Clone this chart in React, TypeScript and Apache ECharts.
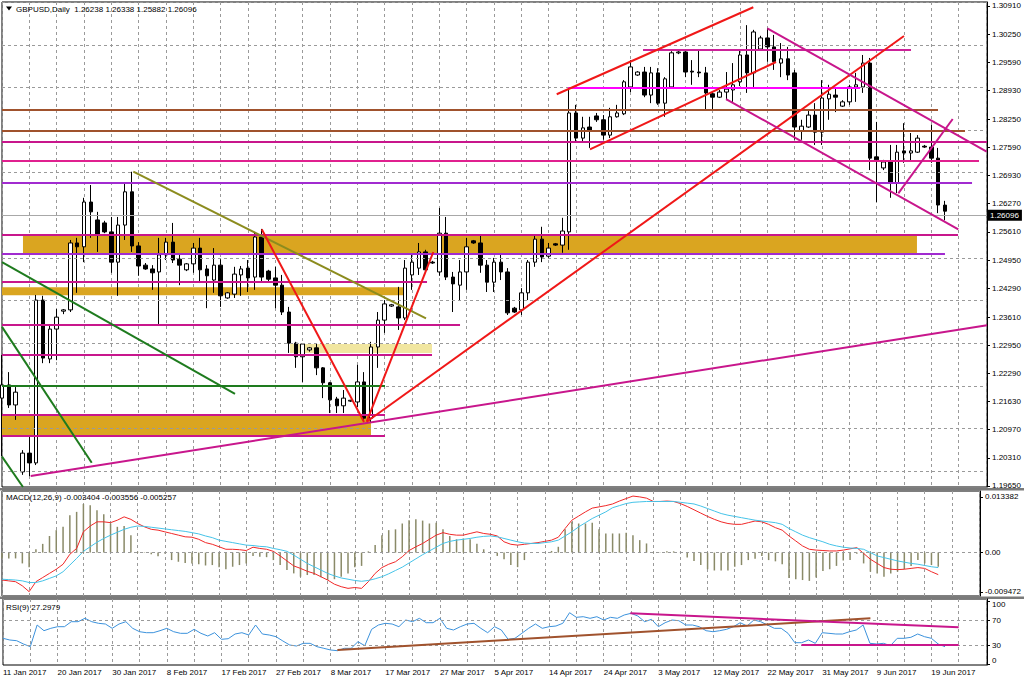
import React, { useEffect, useRef } from 'react';
import * as echarts from 'echarts';

const FONT = "'Liberation Sans', Arial, sans-serif";

const dateLabels = ['11 Jan 2017', '20 Jan 2017', '30 Jan 2017', '8 Feb 2017', '17 Feb 2017', '27 Feb 2017', '8 Mar 2017', '17 Mar 2017', '27 Mar 2017', '5 Apr 2017', '14 Apr 2017', '24 Apr 2017', '3 May 2017', '12 May 2017', '22 May 2017', '31 May 2017', '9 Jun 2017', '19 Jun 2017'];

const opens = [
  1.2171, 1.2202, 1.2155, 1.1998, 1.2042, 1.2019, 1.2401, 1.2263, 1.2333, 1.2375,
  1.2378, 1.2535, 1.2526, 1.2631, 1.2589, 1.2582, 1.2561, 1.2490, 1.2577, 1.2655,
  1.2528, 1.2483, 1.2474, 1.2467, 1.2507, 1.2537, 1.2497, 1.2472, 1.2486, 1.2523,
  1.2474, 1.2448, 1.2483, 1.2406, 1.2415, 1.2460, 1.2476, 1.2455, 1.2549, 1.2469,
  1.2453, 1.2436, 1.2373, 1.2300, 1.2268, 1.2284, 1.2289, 1.2242, 1.2207, 1.2169,
  1.2153, 1.2164, 1.2162, 1.2209, 1.2124, 1.2291, 1.2354, 1.2387, 1.2385, 1.2359,
  1.2460, 1.2476, 1.2514, 1.2490, 1.2467, 1.2558, 1.2455, 1.2436, 1.2467, 1.2540,
  1.2535, 1.2483, 1.2443, 1.2490, 1.2467, 1.2382, 1.2378, 1.2418, 1.2490, 1.2544,
  1.2504, 1.2533, 1.2530, 1.2561, 1.2840, 1.2781, 1.2807, 1.2833, 1.2824, 1.2788,
  1.2831, 1.2838, 1.2901, 1.2929, 1.2936, 1.2882, 1.2934, 1.2863, 1.2901, 1.2981,
  1.2983, 1.2938, 1.2936, 1.2934, 1.2885, 1.2877, 1.2889, 1.2894, 1.2913, 1.2976,
  1.2934, 1.2990, 1.3016, 1.2995, 1.2957, 1.2967, 1.2934, 1.2798, 1.2807, 1.2835,
  1.2795, 1.2873, 1.2882, 1.2856, 1.2866, 1.2901, 1.2901, 1.2957, 1.2737, 1.2711,
  1.2725, 1.2676, 1.2751, 1.2746, 1.2748, 1.2762, 1.2760, 1.2734, 1.26238,
];
const closes = [
  1.2202, 1.2155, 1.2185, 1.2042, 1.2019, 1.2401, 1.2265, 1.2333, 1.2361, 1.2378,
  1.2535, 1.2526, 1.2631, 1.2608, 1.2554, 1.2561, 1.2490, 1.2577, 1.2655, 1.2528,
  1.2481, 1.2474, 1.2465, 1.2507, 1.2537, 1.2495, 1.2483, 1.2486, 1.2523, 1.2472,
  1.2458, 1.2483, 1.2411, 1.2418, 1.2462, 1.2474, 1.2453, 1.2549, 1.2455, 1.2450,
  1.2436, 1.2373, 1.2300, 1.2268, 1.2298, 1.2289, 1.2242, 1.2207, 1.2167, 1.2153,
  1.2171, 1.2166, 1.2209, 1.2124, 1.2291, 1.2354, 1.2392, 1.2390, 1.2359, 1.2476,
  1.2490, 1.2514, 1.2472, 1.2488, 1.2558, 1.2455, 1.2439, 1.2467, 1.2526, 1.2535,
  1.2483, 1.2443, 1.2490, 1.2467, 1.2371, 1.2373, 1.2418, 1.2490, 1.2544, 1.2502,
  1.2523, 1.2530, 1.2563, 1.2840, 1.2781, 1.2805, 1.2800, 1.2824, 1.2788, 1.2831,
  1.2840, 1.2913, 1.2948, 1.2936, 1.2882, 1.2934, 1.2863, 1.2920, 1.2981, 1.2983,
  1.2936, 1.2936, 1.2934, 1.2887, 1.2877, 1.2889, 1.2896, 1.2906, 1.2976, 1.2934,
  1.3030, 1.3016, 1.2995, 1.2960, 1.2967, 1.2929, 1.2807, 1.2809, 1.2835, 1.2795,
  1.2875, 1.2884, 1.2877, 1.2866, 1.2901, 1.2906, 1.2957, 1.2734, 1.2730, 1.2725,
  1.2676, 1.2748, 1.2746, 1.2751, 1.2781, 1.2760, 1.2734, 1.2624, 1.26096,
];
const highs = [
  1.2272, 1.2232, 1.2197, 1.2049, 1.2080, 1.2413, 1.2411, 1.2343, 1.2380, 1.2380,
  1.2542, 1.2547, 1.2641, 1.2671, 1.2608, 1.2587, 1.2596, 1.2596, 1.2676, 1.2702,
  1.2537, 1.2488, 1.2483, 1.2547, 1.2547, 1.2582, 1.2507, 1.2488, 1.2535, 1.2547,
  1.2483, 1.2523, 1.2497, 1.2420, 1.2479, 1.2481, 1.2495, 1.2561, 1.2568, 1.2472,
  1.2479, 1.2460, 1.2385, 1.2303, 1.2300, 1.2291, 1.2300, 1.2244, 1.2209, 1.2174,
  1.2190, 1.2167, 1.2249, 1.2232, 1.2303, 1.2373, 1.2401, 1.2392, 1.2432, 1.2495,
  1.2507, 1.2535, 1.2519, 1.2493, 1.2617, 1.2596, 1.2467, 1.2495, 1.2547, 1.2542,
  1.2554, 1.2495, 1.2500, 1.2507, 1.2476, 1.2385, 1.2429, 1.2495, 1.2554, 1.2573,
  1.2535, 1.2535, 1.2594, 1.2894, 1.2859, 1.2831, 1.2831, 1.2840, 1.2835, 1.2852,
  1.2859, 1.2917, 1.2964, 1.2938, 1.2948, 1.2948, 1.2945, 1.2924, 1.2985, 1.2985,
  1.2985, 1.2964, 1.2988, 1.2948, 1.2889, 1.2894, 1.2936, 1.2957, 1.2988, 1.3046,
  1.3035, 1.3021, 1.3039, 1.3023, 1.3004, 1.2995, 1.2941, 1.2824, 1.2847, 1.2863,
  1.2917, 1.2906, 1.2899, 1.2870, 1.2906, 1.2934, 1.2976, 1.2969, 1.2819, 1.2730,
  1.2765, 1.2765, 1.2816, 1.2793, 1.2788, 1.2765, 1.2812, 1.2758, 1.26338,
];
const lows = [
  1.2035, 1.2148, 1.2120, 1.1991, 1.1988, 1.2014, 1.2253, 1.2253, 1.2260, 1.2368,
  1.2373, 1.2418, 1.2490, 1.2547, 1.2514, 1.2558, 1.2465, 1.2411, 1.2542, 1.2514,
  1.2458, 1.2472, 1.2425, 1.2345, 1.2495, 1.2488, 1.2436, 1.2469, 1.2465, 1.2441,
  1.2382, 1.2418, 1.2385, 1.2404, 1.2406, 1.2411, 1.2420, 1.2425, 1.2443, 1.2443,
  1.2382, 1.2366, 1.2277, 1.2242, 1.2209, 1.2280, 1.2225, 1.2171, 1.2136, 1.2136,
  1.2136, 1.2162, 1.2150, 1.2115, 1.2115, 1.2242, 1.2324, 1.2385, 1.2331, 1.2354,
  1.2425, 1.2460, 1.2467, 1.2486, 1.2458, 1.2448, 1.2373, 1.2401, 1.2425, 1.2533,
  1.2465, 1.2420, 1.2420, 1.2448, 1.2366, 1.2371, 1.2366, 1.2401, 1.2479, 1.2490,
  1.2500, 1.2528, 1.2512, 1.2519, 1.2770, 1.2772, 1.2758, 1.2819, 1.2777, 1.2781,
  1.2829, 1.2835, 1.2889, 1.2927, 1.2877, 1.2863, 1.2859, 1.2831, 1.2899, 1.2978,
  1.2924, 1.2906, 1.2924, 1.2847, 1.2847, 1.2875, 1.2870, 1.2866, 1.2903, 1.2887,
  1.2901, 1.2988, 1.2960, 1.2941, 1.2924, 1.2917, 1.2777, 1.2777, 1.2805, 1.2765,
  1.2765, 1.2824, 1.2842, 1.2854, 1.2859, 1.2866, 1.2887, 1.2706, 1.2631, 1.2706,
  1.2641, 1.2652, 1.2723, 1.2725, 1.2746, 1.2758, 1.2723, 1.2605, 1.25882,
];

const macdHist = [
  -0.0014, -0.0014, -0.0014, -0.0026, -0.0035, 0.0008, 0.0021, 0.0040, 0.0054, 0.0062,
  0.0090, 0.0098, 0.0117, 0.0114, 0.0102, 0.0092, 0.0070, 0.0062, 0.0064, 0.0042,
  0.0002, 0.0001, -0.0004, -0.0009, -0.0002, -0.0018, -0.0022, -0.0025, -0.0026, -0.0028,
  -0.0031, -0.0030, -0.0035, -0.0040, -0.0034, -0.0030, -0.0026, -0.0008, -0.0010, -0.0011,
  -0.0018, -0.0030, -0.0042, -0.0050, -0.0058, -0.0054, -0.0054, -0.0059, -0.0066, -0.0064,
  -0.0058, -0.0050, -0.0035, -0.0032, 0.0003, 0.0018, 0.0042, 0.0054, 0.0056, 0.0070,
  0.0078, 0.0080, 0.0077, 0.0070, 0.0072, 0.0056, 0.0040, 0.0032, 0.0034, 0.0032,
  0.0021, 0.0008, 0.0001, -0.0008, -0.0016, -0.0030, -0.0035, -0.0018, 0.0001, 0.0001,
  0.0001, 0.0004, 0.0014, 0.0056, 0.0074, 0.0070, 0.0070, 0.0072, 0.0056, 0.0046,
  0.0046, 0.0046, 0.0048, 0.0042, 0.0030, 0.0022, 0.0001, 0.0001, 0.0003, 0.0003,
  0.0001, -0.0012, -0.0020, -0.0030, -0.0040, -0.0043, -0.0043, -0.0043, -0.0034, -0.0030,
  -0.0018, -0.0015, -0.0008, -0.0018, -0.0021, -0.0028, -0.0061, -0.0064, -0.0066, -0.0068,
  -0.0060, -0.0044, -0.0040, -0.0032, -0.0019, -0.0018, -0.0003, -0.0026, -0.0046, -0.0050,
  -0.0058, -0.0050, -0.0046, -0.0040, -0.0032, -0.0018, -0.0026, -0.0030, -0.0034,
];
const macdMain = [
  -0.0066, -0.0068, -0.0070, -0.0080, -0.0094, -0.0070, -0.0060, -0.0050, -0.0040, -0.0028,
  -0.0004, 0.0010, 0.0050, 0.0064, 0.0074, 0.0074, 0.0072, 0.0078, 0.0086, 0.0080,
  0.0070, 0.0062, 0.0056, 0.0054, 0.0050, 0.0046, 0.0042, 0.0038, 0.0037, 0.0032,
  0.0024, 0.0020, 0.0014, 0.0008, 0.0008, 0.0007, 0.0005, 0.0013, 0.0010, 0.0008,
  0.0003, -0.0008, -0.0020, -0.0032, -0.0038, -0.0045, -0.0050, -0.0058, -0.0066, -0.0076,
  -0.0082, -0.0086, -0.0084, -0.0086, -0.0070, -0.0050, -0.0036, -0.0028, -0.0022, -0.0010,
  0.0005, 0.0014, 0.0022, 0.0032, 0.0042, 0.0048, 0.0044, 0.0042, 0.0042, 0.0046,
  0.0050, 0.0046, 0.0044, 0.0040, 0.0026, 0.0020, 0.0018, 0.0020, 0.0022, 0.0024,
  0.0027, 0.0030, 0.0037, 0.0058, 0.0078, 0.0088, 0.0098, 0.0107, 0.0110, 0.0113,
  0.0117, 0.0124, 0.0130, 0.0136, 0.0134, 0.0131, 0.0123, 0.0123, 0.0124, 0.0123,
  0.0118, 0.0111, 0.0103, 0.0095, 0.0087, 0.0080, 0.0074, 0.0070, 0.0068, 0.0068,
  0.0072, 0.0076, 0.0074, 0.0068, 0.0060, 0.0054, 0.0040, 0.0028, 0.0016, 0.0008,
  0.0006, 0.0005, 0.0004, 0.0004, 0.0006, 0.0009, 0.0012, -0.0002, -0.0016, -0.0026,
  -0.0036, -0.0040, -0.0041, -0.0040, -0.0038, -0.0036, -0.0038, -0.0046, -0.0053,
];
const macdSignal = [
  -0.0064, -0.0065, -0.0066, -0.0068, -0.0072, -0.0072, -0.0068, -0.0062, -0.0056, -0.0046,
  -0.0030, -0.0014, 0.0003, 0.0014, 0.0025, 0.0034, 0.0042, 0.0049, 0.0056, 0.0061,
  0.0064, 0.0063, 0.0061, 0.0059, 0.0057, 0.0055, 0.0053, 0.0051, 0.0048, 0.0045,
  0.0040, 0.0036, 0.0030, 0.0027, 0.0024, 0.0021, 0.0018, 0.0017, 0.0015, 0.0014,
  0.0010, 0.0007, 0.0003, -0.0006, -0.0016, -0.0026, -0.0034, -0.0042, -0.0050, -0.0056,
  -0.0061, -0.0064, -0.0067, -0.0069, -0.0067, -0.0063, -0.0058, -0.0051, -0.0043, -0.0035,
  -0.0025, -0.0015, -0.0005, 0.0004, 0.0013, 0.0022, 0.0027, 0.0030, 0.0032, 0.0034,
  0.0037, 0.0039, 0.0040, 0.0038, 0.0034, 0.0030, 0.0026, 0.0023, 0.0022, 0.0022,
  0.0024, 0.0026, 0.0030, 0.0040, 0.0050, 0.0062, 0.0072, 0.0082, 0.0090, 0.0098,
  0.0108, 0.0113, 0.0118, 0.0121, 0.0122, 0.0123, 0.0123, 0.0123, 0.0123, 0.0123,
  0.0121, 0.0119, 0.0117, 0.0112, 0.0106, 0.0100, 0.0094, 0.0090, 0.0087, 0.0084,
  0.0081, 0.0078, 0.0076, 0.0074, 0.0072, 0.0068, 0.0058, 0.0050, 0.0042, 0.0036,
  0.0031, 0.0026, 0.0020, 0.0016, 0.0013, 0.0011, 0.0010, 0.0008, 0.0000, -0.0008,
  -0.0012, -0.0016, -0.0020, -0.0023, -0.0026, -0.0028, -0.0031, -0.0034, -0.0036,
];
const rsi = [
  40.7, 38.0, 36.9, 31.6, 27.3, 62.0, 52.9, 56.7, 59.3, 59.3,
  67.3, 67.3, 72.7, 67.3, 64.7, 63.6, 56.7, 63.6, 67.3, 56.7,
  51.3, 49.7, 49.7, 52.9, 56.7, 51.3, 48.7, 48.7, 55.1, 48.7,
  44.4, 49.7, 39.1, 40.1, 47.6, 49.7, 46.0, 62.0, 47.6, 46.0,
  43.3, 36.4, 30.0, 28.4, 32.7, 32.7, 27.3, 24.7, 22.0, 20.9,
  24.7, 24.7, 35.3, 28.9, 55.1, 62.0, 64.7, 63.6, 59.3, 70.0,
  67.3, 72.7, 65.7, 65.7, 72.7, 56.7, 54.0, 59.3, 63.6, 64.7,
  56.7, 49.7, 59.3, 54.0, 39.1, 40.7, 48.7, 56.7, 63.6, 56.7,
  59.3, 60.4, 64.7, 81.7, 74.3, 75.3, 72.7, 75.3, 70.0, 74.3,
  72.7, 78.0, 80.7, 76.4, 67.3, 71.1, 59.3, 65.7, 70.0, 68.9,
  62.0, 62.0, 59.3, 52.9, 51.3, 52.9, 55.1, 59.3, 65.7, 60.4,
  70.0, 67.3, 62.0, 56.7, 56.7, 48.7, 33.7, 33.7, 38.0, 32.7,
  49.7, 48.7, 47.6, 47.6, 51.3, 54.0, 62.0, 32.7, 31.6, 32.7,
  28.9, 40.7, 40.7, 42.3, 47.6, 43.3, 40.7, 31.6, 27.3,
];

const priceTicks = [1.1965, 1.2031, 1.2097, 1.2163, 1.2229, 1.2295, 1.2361, 1.2429, 1.2495, 1.2561, 1.2627, 1.2693, 1.2759, 1.2825, 1.2893, 1.2959, 1.3025, 1.3091];
const macdTicks = [0.013382, 0, -0.009472];
const rsiTicks = [0, 30, 70, 100];
const bidPrice = 1.26096;

const BROWN = '#a0522d';
const MAG = '#c8168c';
const PINK = '#e0208f';
const PURPLE = '#a12bd0';
const GREEN = '#1e7b1e';
const OLIVE = '#8c8c1e';
const RED = '#f01818';
const GOLD = '#daa520';
const PALE = '#f1e6a0';

// horizontal levels: price, from bar, to bar, colour
const levels: [number, number, number, string][] = [
  [1.28469, 0, 136.98, BROWN],
  [1.27984, 0, 140.93, BROWN],
  [1.27726, 0, 144.15, MAG],
  [1.27273, 0, 142.98, PINK],
  [1.26757, 0, 141.96, PURPLE],
  [1.28997, 82.83, 125.57, '#ff00ff'],
  [1.29877, 93.81, 133.03, '#cc2299'],
  [1.25549, 0, 139.91, MAG],
  [1.25091, 0, 138.0, PURPLE],
  [1.24441, 0, 62.2, MAG],
  [1.23437, 0, 67.03, MAG],
  [1.22733, 0, 62.93, MAG],
  [1.22001, 0, 56.05, GREEN],
  [1.21326, 0, 56.05, MAG],
  [1.20821, 0, 56.05, MAG],
];
// zones: top price, bottom price, from bar, to bar, colour
const zones: [number, number, number, number, string][] = [
  [1.25549, 1.25091, 3.07, 133.9, GOLD],
  [1.2431, 1.24122, 0, 58.69, GOLD],
  [1.2298, 1.22769, 42.15, 62.93, PALE],
  [1.21326, 1.20821, 0, 54.0, GOLD],
];
// trend lines: bar1, price1, bar2, price2, colour
const trendLines: [number, number, number, number, string][] = [
  [0, 1.24899, 34.1, 1.21807, GREEN],
  [0, 1.23381, 13.13, 1.20195, GREEN],
  [0, 1.20336, 3.07, 1.19625, GREEN],
  [4.2, 1.19883, 144.15, 1.23421, MAG],
  [19.22, 1.27022, 62.05, 1.23583, OLIVE],
  [38.01, 1.25671, 52.98, 1.2115, RED],
  [53.37, 1.21157, 63.12, 1.25138, RED],
  [53.37, 1.21157, 132.0, 1.30205, RED],
  [81.18, 1.28838, 109.95, 1.30879, RED],
  [86.05, 1.27547, 113.27, 1.29596, RED],
  [112.0, 1.30386, 144.1, 1.27491, MAG],
  [105.96, 1.28727, 139.95, 1.25671, MAG],
  [131.17, 1.26515, 139.13, 1.28258, MAG],
];
const rsiLines: [number, number, number, number, string][] = [
  [48.98, 22.0, 127.07, 72.7, BROWN],
  [91.9, 80.7, 140.0, 58.3, MAG],
  [116.97, 30.0, 140.0, 30.0, MAG],
];

const X_MAX = 144.15;
const GRID_COLOR = '#9a9a9a';

function buildOption() {
  const idx = opens.map((_, i) => i);
  const candleData = idx.map((i) => [i, opens[i], closes[i], lows[i], highs[i]]);
  const txt = { fontSize: 8, color: '#000', fontFamily: FONT, fontWeight: 'normal' as const };

  const xAxis = [0, 1, 2].map((g) => ({
    gridIndex: g,
    type: 'value',
    min: 0,
    max: X_MAX,
    interval: 4,
    axisLine: { show: false },
    axisTick: { show: false },
    splitLine: { show: true, lineStyle: { color: GRID_COLOR, type: [3, 3], width: 1 } },
    axisLabel:
      g === 2
        ? {
            show: true,
            align: 'left',
            margin: 3,
            ...txt,
            formatter: (v: number) => {
              const r = Math.round(v);
              if (Math.abs(v - r) > 0.01 || r % 8 !== 0) return '';
              return dateLabels[r / 8] || '';
            },
          }
        : { show: false },
  }));

  const yCommon = {
    type: 'value',
    position: 'right',
    splitLine: { show: false },
    axisLine: { show: true, onZero: false, lineStyle: { color: '#000' } },
  };

  const yAxis = [
    {
      ...yCommon,
      gridIndex: 0,
      min: 1.19625,
      max: 1.31003,
      axisTick: { show: true, length: 3, customValues: priceTicks, lineStyle: { color: '#000' } },
      axisLabel: { ...txt, margin: 5, customValues: priceTicks, formatter: (v: number) => v.toFixed(5) },
    },
    {
      ...yCommon,
      gridIndex: 1,
      min: -0.01044,
      max: 0.014819,
      axisTick: { show: true, length: 3, customValues: macdTicks, lineStyle: { color: '#000' } },
      axisLabel: {
        ...txt,
        margin: 5,
        customValues: macdTicks,
        formatter: (v: number) => (Math.abs(v) < 1e-9 ? '0.00' : v.toFixed(6)),
      },
    },
    {
      ...yCommon,
      gridIndex: 2,
      min: -2,
      max: 103.6,
      axisTick: { show: true, length: 3, customValues: rsiTicks, lineStyle: { color: '#000' } },
      axisLabel: {
        ...txt,
        margin: 5,
        customValues: rsiTicks,
        formatter: (v: number) => (v === 100 ? '{a|100}' : v === 0 ? '{b|0}' : String(v)),
        rich: {
          a: { ...txt, padding: [6, 0, 0, 0] },
          b: { ...txt, padding: [0, 0, 7, 0] },
        },
      },
    },
  ];

  const gridLineData = priceTicks.map((v) => ({ yAxis: v }));

  const levelData = levels.map(([p, a, b, c]) => [
    { coord: [a, p], lineStyle: { color: c, width: 2, type: 'solid' } },
    { coord: [b, p] },
  ]);
  const trendData = trendLines.map(([a, p1, b, p2, c]) => [
    { coord: [a, p1], lineStyle: { color: c, width: 2, type: 'solid' } },
    { coord: [b, p2] },
  ]);
  const zoneData = zones.map(([t, bt, a, b, c]) => [
    { coord: [a, t], itemStyle: { color: c, opacity: 1 } },
    { coord: [b, bt] },
  ]);
  const rsiLineData = rsiLines.map(([a, v1, b, v2, c]) => [
    { coord: [a, v1], lineStyle: { color: c, width: 2, type: 'solid' } },
    { coord: [b, v2] },
  ]);

  return {
    animation: false,
    backgroundColor: '#ffffff',
    textStyle: { fontFamily: FONT },
    title: [
      { text: 'GBPUSD,Daily  1.26238 1.26338 1.25882 1.26096', left: 16, top: 5, padding: 0, textStyle: txt },
      { text: 'MACD(12,26,9) -0.003404 -0.003556 -0.005257', left: 6, top: 493, padding: 0, textStyle: txt },
      { text: 'RSI(9) 27.2979', left: 6, top: 603, padding: 0, textStyle: txt },
    ],
    grid: [
      { left: 2, top: 2, width: 985, height: 485, show: true, borderColor: '#000', borderWidth: 1, backgroundColor: '#fff' },
      { left: 2, top: 491, width: 985, height: 105, show: true, borderColor: '#000', borderWidth: 1, backgroundColor: '#fff' },
      { left: 2, top: 599, width: 985, height: 66, show: true, borderColor: '#000', borderWidth: 1, backgroundColor: '#fff' },
    ],
    xAxis,
    yAxis,
    graphic: [
      { type: 'rect', left: 0, top: 488, shape: { width: 1024, height: 2.5 }, style: { fill: '#7a7a7a' }, silent: true },
      { type: 'rect', left: 0, top: 596.5, shape: { width: 1024, height: 2.5 }, style: { fill: '#7a7a7a' }, silent: true },
      { type: 'polygon', shape: { points: [[6, 6.5], [12, 6.5], [9, 10.5]] }, style: { fill: '#000' }, silent: true },
    ],
    series: [
      {
        type: 'line',
        name: 'zones',
        xAxisIndex: 0,
        yAxisIndex: 0,
        data: [],
        silent: true,
        z: 1,
        markArea: { silent: true, data: zoneData },
        markLine: {
          silent: true,
          symbol: ['none', 'none'],
          label: { show: false },
          lineStyle: { color: GRID_COLOR, type: [3, 3], width: 1 },
          data: gridLineData,
        },
      },
      {
        type: 'candlestick',
        name: 'GBPUSD',
        xAxisIndex: 0,
        yAxisIndex: 0,
        data: candleData,
        encode: { x: 0, y: [1, 2, 3, 4] },
        barWidth: 4,
        z: 2,
        itemStyle: { color: '#ffffff', color0: '#000000', borderColor: '#000000', borderColor0: '#000000', borderWidth: 1 },
      },
      {
        type: 'line',
        name: 'objects',
        xAxisIndex: 0,
        yAxisIndex: 0,
        data: [],
        silent: true,
        z: 3,
        markLine: {
          silent: true,
          symbol: ['none', 'none'],
          label: { show: false },
          data: [
            {
              yAxis: bidPrice,
              lineStyle: { color: '#a8a8a8', width: 1, type: 'solid' },
              label: {
                show: true,
                position: 'end',
                distance: 0,
                formatter: bidPrice.toFixed(5),
                backgroundColor: '#000',
                color: '#fff',
                padding: [2, 3, 1, 3],
                fontSize: 8,
                fontFamily: FONT,
              },
            },
            ...levelData,
            ...trendData,
          ],
        },
      },
      {
        type: 'bar',
        name: 'MACD hist',
        xAxisIndex: 1,
        yAxisIndex: 1,
        data: idx.map((i) => [i, macdHist[i]]),
        barWidth: 1.5,
        itemStyle: { color: '#8a8a68' },
        silent: true,
        markLine: {
          silent: true,
          symbol: ['none', 'none'],
          label: { show: false },
          lineStyle: { color: GRID_COLOR, type: [3, 3], width: 1 },
          data: [{ yAxis: 0 }],
        },
      },
      {
        type: 'line',
        name: 'MACD',
        xAxisIndex: 1,
        yAxisIndex: 1,
        data: idx.map((i) => [i, macdMain[i]]),
        showSymbol: false,
        lineStyle: { color: '#f02828', width: 1 },
        silent: true,
      },
      {
        type: 'line',
        name: 'Signal',
        xAxisIndex: 1,
        yAxisIndex: 1,
        data: idx.map((i) => [i, macdSignal[i]]),
        showSymbol: false,
        lineStyle: { color: '#45c3e8', width: 1 },
        silent: true,
      },
      {
        type: 'line',
        name: 'RSI',
        xAxisIndex: 2,
        yAxisIndex: 2,
        data: idx.map((i) => [i, rsi[i]]),
        showSymbol: false,
        lineStyle: { color: '#3c92dc', width: 1 },
        silent: true,
        markLine: {
          silent: true,
          symbol: ['none', 'none'],
          label: { show: false },
          data: [
            { yAxis: 70, lineStyle: { color: GRID_COLOR, type: [3, 3], width: 1 } },
            { yAxis: 30, lineStyle: { color: GRID_COLOR, type: [3, 3], width: 1 } },
            ...rsiLineData,
          ],
        },
      },
    ],
  };
}

export default function App() {
  const ref = useRef<HTMLDivElement>(null);
  useEffect(() => {
    if (!ref.current) return;
    const chart = echarts.init(ref.current, undefined, { renderer: 'svg' });
    chart.setOption(buildOption() as any);
    return () => chart.dispose();
  }, []);
  return (
    <div
      ref={ref}
      style={{ position: 'fixed', left: 0, top: 0, width: 1024, height: 683, background: '#fff' }}
    />
  );
}
